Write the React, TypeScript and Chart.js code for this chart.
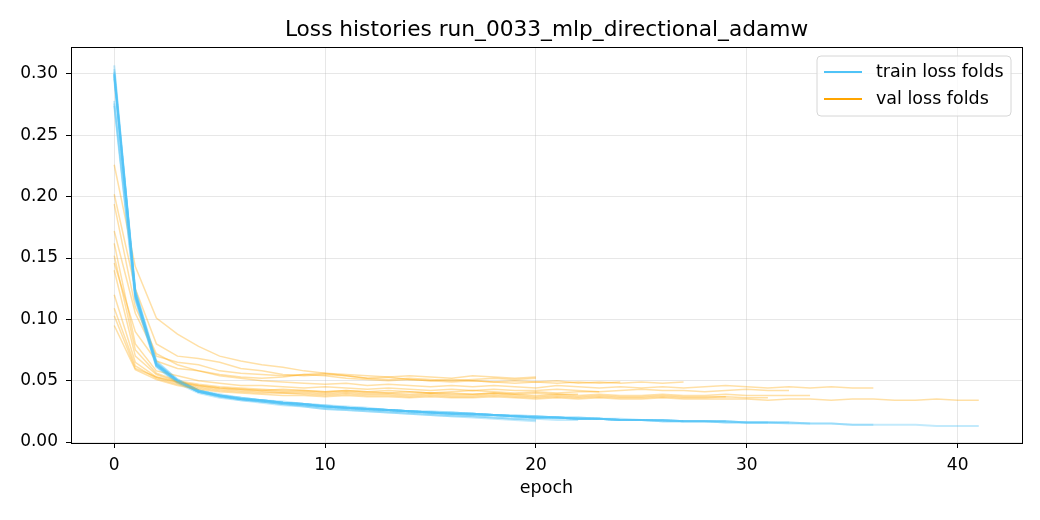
import { useEffect, useRef } from "react";
import Chart from "chart.js/auto";

// per-fold loss histories (index = epoch)
const trainFold01 = [0.307, 0.118, 0.062, 0.049, 0.041, 0.037, 0.034, 0.033, 0.031, 0.030, 0.028, 0.027, 0.026, 0.025, 0.024, 0.023, 0.022, 0.021, 0.020, 0.019, 0.018];
const trainFold02 = [0.300, 0.122, 0.065, 0.051, 0.042, 0.038, 0.035, 0.033, 0.031, 0.029, 0.027, 0.026, 0.025, 0.024, 0.023, 0.022, 0.021, 0.020, 0.019, 0.018, 0.017];
const trainFold03 = [0.298, 0.120, 0.063, 0.050, 0.041, 0.038, 0.035, 0.034, 0.032, 0.031, 0.029, 0.028, 0.027, 0.026, 0.025, 0.024, 0.023, 0.023, 0.022, 0.021, 0.020, 0.020, 0.019, 0.019, 0.018];
const trainFold04 = [0.302, 0.124, 0.066, 0.051, 0.042, 0.039, 0.036, 0.034, 0.033, 0.031, 0.030, 0.029, 0.028, 0.026, 0.025, 0.024, 0.024, 0.023, 0.022, 0.021, 0.021, 0.020, 0.019, 0.019, 0.018, 0.018, 0.017, 0.017];
const trainFold05 = [0.296, 0.119, 0.062, 0.049, 0.041, 0.037, 0.035, 0.033, 0.032, 0.030, 0.029, 0.028, 0.027, 0.026, 0.025, 0.024, 0.023, 0.022, 0.022, 0.021, 0.020, 0.020, 0.019, 0.019, 0.018, 0.018, 0.017, 0.017, 0.017, 0.016, 0.016, 0.016, 0.015, 0.015, 0.015, 0.014, 0.014];
const trainFold06 = [0.276, 0.121, 0.064, 0.050, 0.042, 0.038, 0.035, 0.034, 0.032, 0.031, 0.029, 0.028, 0.027, 0.026, 0.025, 0.024, 0.023, 0.023, 0.022, 0.021, 0.020, 0.020, 0.019, 0.019, 0.018, 0.018, 0.018, 0.017, 0.017, 0.017, 0.016, 0.016, 0.016];
const trainFold07 = [0.274, 0.116, 0.061, 0.048, 0.040, 0.036, 0.034, 0.032, 0.030, 0.029, 0.027, 0.026, 0.025, 0.024, 0.023, 0.022, 0.021, 0.021, 0.020, 0.019, 0.019, 0.018, 0.018];
const trainFold08 = [0.299, 0.123, 0.064, 0.050, 0.042, 0.038, 0.036, 0.034, 0.032, 0.031, 0.029, 0.028, 0.027, 0.026, 0.025, 0.024, 0.024, 0.023, 0.022, 0.021, 0.021, 0.020, 0.020, 0.019];
const trainFold09 = [0.301, 0.120, 0.063, 0.050, 0.041, 0.038, 0.035, 0.034, 0.032, 0.031, 0.029, 0.028, 0.027, 0.026, 0.025, 0.024, 0.023, 0.023, 0.022, 0.021, 0.020, 0.020, 0.019, 0.019, 0.018, 0.018, 0.018, 0.017, 0.017, 0.017];
const trainFold10 = [0.278, 0.117, 0.062, 0.049, 0.041, 0.037, 0.035, 0.033, 0.031, 0.030, 0.029, 0.028, 0.027, 0.026, 0.025, 0.024, 0.023, 0.022, 0.022, 0.021, 0.020, 0.020, 0.019, 0.019, 0.018, 0.018, 0.017, 0.017, 0.017, 0.016, 0.016, 0.016];
const trainFold11 = [0.304, 0.122, 0.064, 0.050, 0.042, 0.038, 0.036, 0.034, 0.032, 0.031, 0.030, 0.028, 0.027, 0.026, 0.025, 0.025, 0.024, 0.023, 0.022, 0.022, 0.021, 0.020, 0.020, 0.019, 0.019, 0.018, 0.018, 0.017, 0.017, 0.017, 0.016, 0.016, 0.016, 0.015];
const trainFold12 = [0.300, 0.120, 0.063, 0.050, 0.041, 0.038, 0.035, 0.034, 0.032, 0.031, 0.029, 0.028, 0.027, 0.026, 0.025, 0.024, 0.023, 0.023, 0.022, 0.021, 0.020, 0.020, 0.019, 0.019, 0.018, 0.018, 0.018, 0.017, 0.017, 0.017, 0.016, 0.016, 0.016, 0.015, 0.015, 0.014, 0.014, 0.014, 0.014, 0.013, 0.013, 0.013];

const valFold01 = [0.226, 0.143, 0.101, 0.088, 0.078, 0.070, 0.066, 0.063, 0.061, 0.058, 0.056, 0.055, 0.054, 0.053, 0.054, 0.053, 0.052, 0.054, 0.053, 0.052, 0.053];
const valFold02 = [0.202, 0.125, 0.080, 0.070, 0.068, 0.065, 0.060, 0.058, 0.055, 0.054, 0.055, 0.054, 0.052, 0.051, 0.052, 0.051, 0.050, 0.051, 0.052, 0.051, 0.052];
const valFold03 = [0.172, 0.105, 0.070, 0.065, 0.063, 0.058, 0.056, 0.055, 0.054, 0.055, 0.056, 0.054, 0.052, 0.053, 0.051, 0.050, 0.051, 0.050, 0.049, 0.050, 0.049, 0.048, 0.049, 0.048, 0.049];
const valFold04 = [0.146, 0.090, 0.066, 0.060, 0.058, 0.055, 0.053, 0.052, 0.053, 0.055, 0.054, 0.052, 0.051, 0.050, 0.051, 0.050, 0.049, 0.050, 0.049, 0.048, 0.049, 0.050, 0.048, 0.049, 0.048, 0.049, 0.048, 0.049];
const valFold05 = [0.194, 0.110, 0.072, 0.063, 0.058, 0.054, 0.052, 0.050, 0.049, 0.048, 0.047, 0.048, 0.046, 0.047, 0.046, 0.045, 0.046, 0.045, 0.046, 0.045, 0.044, 0.046, 0.045, 0.044, 0.045, 0.044, 0.045, 0.044, 0.045, 0.046, 0.045, 0.044, 0.045, 0.044, 0.045, 0.044, 0.044];
const valFold06 = [0.162, 0.080, 0.058, 0.054, 0.050, 0.048, 0.046, 0.046, 0.045, 0.044, 0.045, 0.044, 0.043, 0.044, 0.043, 0.042, 0.043, 0.042, 0.043, 0.042, 0.042, 0.043, 0.042, 0.041, 0.042, 0.043, 0.042, 0.042, 0.041, 0.042, 0.043, 0.042, 0.042];
const valFold07 = [0.152, 0.075, 0.056, 0.050, 0.047, 0.045, 0.044, 0.043, 0.042, 0.042, 0.041, 0.042, 0.041, 0.040, 0.041, 0.040, 0.040, 0.039, 0.040, 0.039, 0.040, 0.039, 0.039];
const valFold08 = [0.140, 0.070, 0.055, 0.049, 0.046, 0.044, 0.043, 0.042, 0.043, 0.042, 0.041, 0.042, 0.041, 0.042, 0.041, 0.040, 0.041, 0.042, 0.041, 0.040, 0.041, 0.040, 0.041, 0.041];
const valFold09 = [0.120, 0.065, 0.053, 0.048, 0.045, 0.043, 0.042, 0.041, 0.040, 0.040, 0.039, 0.040, 0.039, 0.039, 0.038, 0.039, 0.038, 0.038, 0.039, 0.038, 0.037, 0.038, 0.037, 0.038, 0.037, 0.037, 0.038, 0.037, 0.037, 0.037];
const valFold10 = [0.109, 0.062, 0.052, 0.047, 0.044, 0.042, 0.041, 0.040, 0.040, 0.039, 0.038, 0.039, 0.038, 0.038, 0.037, 0.038, 0.037, 0.037, 0.038, 0.037, 0.036, 0.037, 0.036, 0.037, 0.036, 0.036, 0.037, 0.036, 0.036, 0.037, 0.036, 0.036];
const valFold11 = [0.103, 0.060, 0.053, 0.049, 0.046, 0.044, 0.043, 0.042, 0.041, 0.041, 0.040, 0.041, 0.040, 0.040, 0.039, 0.040, 0.039, 0.039, 0.040, 0.039, 0.038, 0.039, 0.038, 0.039, 0.038, 0.038, 0.039, 0.038, 0.038, 0.039, 0.038, 0.038, 0.038, 0.038];
const valFold12 = [0.095, 0.059, 0.051, 0.046, 0.043, 0.041, 0.040, 0.039, 0.038, 0.038, 0.037, 0.038, 0.037, 0.037, 0.036, 0.037, 0.036, 0.036, 0.037, 0.036, 0.035, 0.036, 0.035, 0.036, 0.035, 0.035, 0.036, 0.035, 0.035, 0.035, 0.035, 0.034, 0.035, 0.035, 0.034, 0.035, 0.035, 0.034, 0.034, 0.035, 0.034, 0.034];

const trainFolds = [trainFold01, trainFold02, trainFold03, trainFold04, trainFold05, trainFold06, trainFold07, trainFold08, trainFold09, trainFold10, trainFold11, trainFold12];
const valFolds = [valFold01, valFold02, valFold03, valFold04, valFold05, valFold06, valFold07, valFold08, valFold09, valFold10, valFold11, valFold12];

const xTicks = [0, 10, 20, 30, 40];
const yTicks = [0, 0.05, 0.1, 0.15, 0.2, 0.25, 0.3];

const TITLE = "Loss histories run_0033_mlp_directional_adamw";
const TRAIN_COLOR = "#4fc3f7";
const VAL_COLOR = "#ffa500";
const FONT = "'DejaVu Sans', sans-serif";

const decor = {
  id: "decor",
  afterDraw(chart: any) {
    const { ctx, chartArea } = chart;
    const { left, top, right, bottom } = chartArea;
    ctx.save();
    // axes frame
    ctx.strokeStyle = "#000";
    ctx.lineWidth = 1;
    ctx.strokeRect(Math.round(left) + 0.5, Math.round(top) + 0.5, Math.round(right - left), Math.round(bottom - top));

    // title and x label
    ctx.fillStyle = "#000";
    ctx.textAlign = "center";
    ctx.textBaseline = "alphabetic";
    ctx.font = `21.7px ${FONT}`;
    ctx.fillText(TITLE, (left + right) / 2, 36);
    ctx.font = `17.5px ${FONT}`;
    ctx.fillText("epoch", (left + right) / 2, 493);

    // legend box
    const bx = 817, by = 56, bw = 194, bh = 60, r = 4;
    ctx.beginPath();
    ctx.moveTo(bx + r, by);
    ctx.arcTo(bx + bw, by, bx + bw, by + bh, r);
    ctx.arcTo(bx + bw, by + bh, bx, by + bh, r);
    ctx.arcTo(bx, by + bh, bx, by, r);
    ctx.arcTo(bx, by, bx + bw, by, r);
    ctx.closePath();
    ctx.fillStyle = "rgba(255,255,255,0.8)";
    ctx.fill();
    ctx.strokeStyle = "#d6d6d6";
    ctx.stroke();

    const items = [
      { label: "train loss folds", color: TRAIN_COLOR, y: 72 },
      { label: "val loss folds", color: VAL_COLOR, y: 99 },
    ];
    ctx.lineWidth = 2;
    ctx.textAlign = "left";
    ctx.textBaseline = "middle";
    ctx.font = `17.5px ${FONT}`;
    for (const it of items) {
      ctx.strokeStyle = it.color;
      ctx.beginPath();
      ctx.moveTo(824, it.y);
      ctx.lineTo(862, it.y);
      ctx.stroke();
      ctx.fillStyle = "#000";
      ctx.fillText(it.label, 876, it.y);
    }
    ctx.restore();
  },
};

export default function App() {
  const canvasRef = useRef<HTMLCanvasElement | null>(null);
  const chartRef = useRef<Chart | null>(null);

  useEffect(() => {
    document.body.style.margin = "0";
    if (!canvasRef.current) return;
    if (chartRef.current) chartRef.current.destroy();

    const datasets: any[] = [];
    trainFolds.forEach((train, i) => {
      datasets.push({
        label: "train loss folds",
        data: train.map((v, e) => ({ x: e, y: v })),
        borderColor: "rgba(79,195,247,0.35)",
        borderWidth: 2,
        pointRadius: 0,
        fill: false,
        tension: 0,
      });
      datasets.push({
        label: "val loss folds",
        data: valFolds[i].map((v, e) => ({ x: e, y: v })),
        borderColor: "rgba(255,165,0,0.35)",
        borderWidth: 1.5,
        pointRadius: 0,
        fill: false,
        tension: 0,
      });
    });
    datasets.reverse();

    const gridCfg = {
      color: "rgba(176,176,176,0.3)",
      tickColor: "#000",
      tickLength: 5,
      drawTicks: true,
    };

    chartRef.current = new Chart(canvasRef.current, {
      type: "line",
      data: { datasets },
      options: {
        animation: false,
        responsive: false,
        devicePixelRatio: 1,
        layout: { padding: { top: 47, right: 18, bottom: 0, left: 0 } },
        plugins: { legend: { display: false }, tooltip: { enabled: false }, title: { display: false } },
        scales: {
          x: {
            type: "linear",
            min: -2.05,
            max: 43.05,
            grid: gridCfg,
            border: { display: false },
            afterBuildTicks: (scale: any) => {
              scale.ticks = xTicks.map((v) => ({ value: v }));
            },
            afterFit: (scale: any) => {
              scale.height = 77;
            },
            ticks: {
              color: "#000",
              font: { family: FONT, size: 17 },
              padding: 7,
              maxRotation: 0,
              callback: (v: any) => String(v),
            },
          },
          y: {
            type: "linear",
            min: -0.0008,
            max: 0.322,
            grid: gridCfg,
            border: { display: false },
            afterBuildTicks: (scale: any) => {
              scale.ticks = yTicks.map((v) => ({ value: v }));
            },
            afterFit: (scale: any) => {
              scale.width = 71;
            },
            ticks: {
              color: "#000",
              font: { family: FONT, size: 17 },
              padding: 8,
              callback: (v: any) => Number(v).toFixed(2),
            },
          },
        },
      },
      plugins: [decor],
    });

    return () => {
      if (chartRef.current) {
        chartRef.current.destroy();
        chartRef.current = null;
      }
    };
  }, []);

  return (
    <div style={{ width: 1040, height: 520, background: "#fff" }}>
      <canvas ref={canvasRef} width={1040} height={520}></canvas>
    </div>
  );
}
